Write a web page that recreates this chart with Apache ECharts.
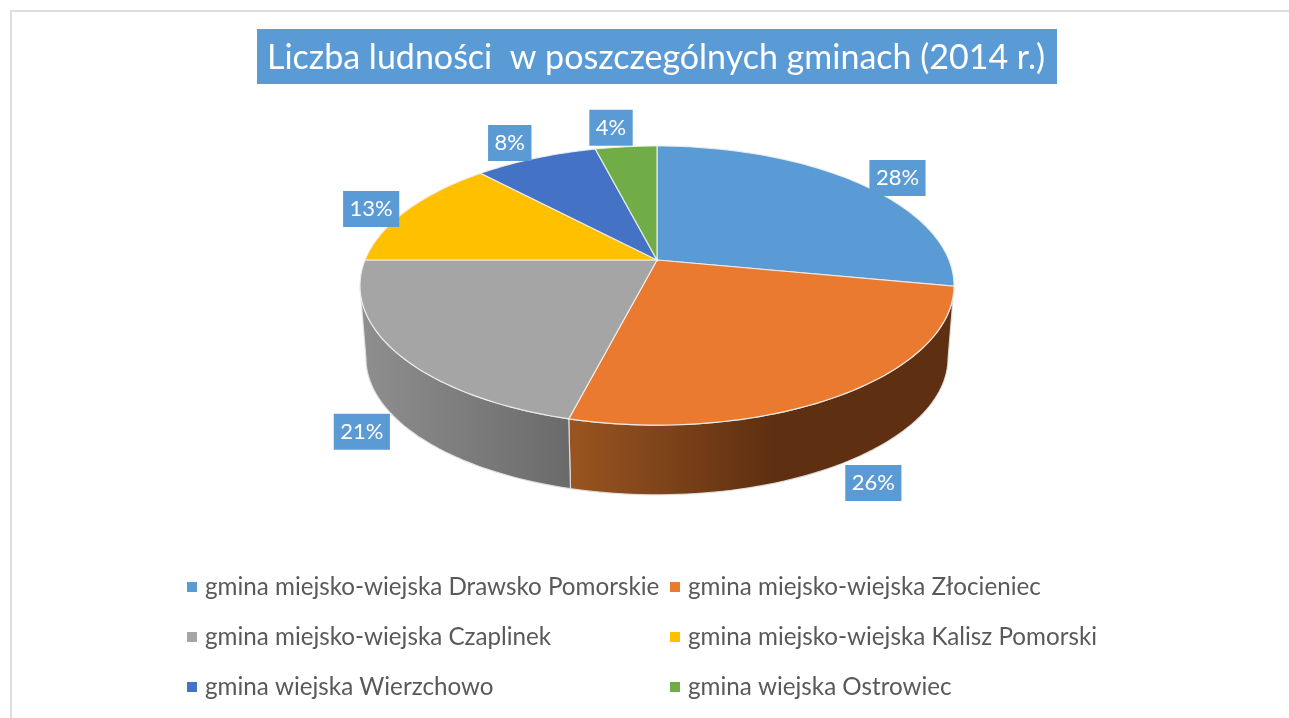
<!DOCTYPE html>
<html>
<head>
<meta charset="utf-8">
<style>html,body{margin:0;padding:0;background:#fff}#c{width:1289px;height:718px}</style>
<script src="https://cdn.jsdelivr.net/npm/echarts@6/dist/echarts.min.js"></script>
</head>
<body>
<div id="c"></div>
<script>
const titleText = 'Liczba ludności  w poszczególnych gminach (2014 r.)';
const categories = [
  'gmina miejsko-wiejska Drawsko Pomorskie',
  'gmina miejsko-wiejska Złocieniec',
  'gmina miejsko-wiejska Czaplinek',
  'gmina miejsko-wiejska Kalisz Pomorski',
  'gmina wiejska Wierzchowo',
  'gmina wiejska Ostrowiec'
];
const shares = [28, 26, 21, 13, 8, 4];
const colors = ['#5B9BD5', '#E97A30', '#A5A5A5', '#FFC000', '#4472C4', '#70AD47'];
const wallStops = [
  null,
  [[0, '#9A5521'], [0.53, '#5E2F11'], [1, '#5E2F11']],
  [[0, '#8F8F8F'], [1, '#6A6A6A']],
  null, null, null
];
const labelNudge = [[39, -5], [35, 18], [-40.5, 7.5], [-36, -1], [-26, -15], [-15, -19]];

// perspective projection of the pie disc
const apexX = 657, apexY = 260, scaleX = 292, scaleY = 134.9, persp = 0.183;
const depth = 73, lowerScale = 0.98;
const total = shares.reduce((a, b) => a + b, 0);
const wallFrom = 100.5, wallTo = 259.5;

function project(deg, lower) {
  const t = deg * Math.PI / 180;
  const ux = Math.sin(t), uy = -Math.cos(t);
  const d = 1 - persp * uy;
  const s = lower ? lowerScale : 1;
  return [apexX + s * scaleX * ux / d, apexY + s * scaleY * uy / d + (lower ? depth : 0)];
}
function arc(a, b, lower) {
  const pts = [], n = Math.max(4, Math.ceil(Math.abs(b - a) / 1.5));
  for (let i = 0; i <= n; i++) pts.push(project(a + (b - a) * i / n, lower));
  return pts;
}

let running = 0;
const spans = shares.map(v => { const s = [running, running + v]; running += v; return s; });

function renderSlice(index) {
  return function (params, api) {
    const a = spans[index][0] / total * 360, b = spans[index][0] / total * 360 + api.value(0) / total * 360;
    const children = [];
    const wa = Math.max(a, wallFrom), wb = Math.min(b, wallTo);
    if (wb > wa && wallStops[index]) {
      const topRim = arc(wa, wb, false), lowRim = arc(wb, wa, true);
      children.push({
        type: 'polygon', z2: 1,
        shape: { points: topRim.concat(lowRim) },
        style: {
          fill: { type: 'linear', x: 0, y: 0, x2: 1, y2: 0,
            colorStops: wallStops[index].map(s => ({ offset: s[0], color: s[1] })) },
          stroke: 'rgba(225,225,225,0.9)', lineWidth: 1.2
        }
      });
    }
    children.push({
      type: 'polygon', z2: 2,
      shape: { points: [[apexX, apexY]].concat(arc(a, b, false)) },
      style: { fill: colors[index], stroke: 'rgba(240,240,240,0.9)', lineWidth: 1.2 }
    });
    const mid = project((a + b) / 2, (a + b) / 2 > wallFrom && (a + b) / 2 < wallTo);
    children.push({
      type: 'text', z2: 3,
      style: {
        x: mid[0] + labelNudge[index][0], y: mid[1] + labelNudge[index][1],
        text: api.value(0) + '%', fill: '#fff',
        font: '22px Lato', align: 'center', verticalAlign: 'middle',
        backgroundColor: '#5B9BD5', padding: [6, 6.5, 8, 6.5]
      }
    });
    return { type: 'group', children };
  };
}

const chart = echarts.init(document.getElementById('c'), null, { renderer: 'canvas' });
chart.setOption({
  animation: false,
  backgroundColor: '#fff',
  title: {
    text: titleText, left: 257, top: 29,
    backgroundColor: '#5B9BD5', padding: [12, 12, 8, 10],
    textStyle: { color: '#fff', fontFamily: 'Lato', fontWeight: 'normal', fontSize: 34, lineHeight: 35 }
  },
  graphic: [{
    type: 'polyline', silent: true,
    shape: { points: [[11, 718], [11, 11], [1289, 11]] },
    style: { stroke: '#DEDEDE', lineWidth: 2, fill: null }
  }],
  legend: [0, 1].map(col => ({
    orient: 'vertical', left: col ? 665 : 182, top: 569, itemGap: 24,
    itemWidth: 10, itemHeight: 10, icon: 'rect',
    data: categories.filter((_, i) => i % 2 === col),
    selectedMode: false,
    textStyle: { color: '#595959', fontFamily: 'Lato', fontSize: 24.2, lineHeight: 26, padding: [0, 0, 0, 3] }
  })),
  series: categories.map((name, i) => ({
    type: 'custom', name, coordinateSystem: 'none',
    itemStyle: { color: colors[i] },
    renderItem: renderSlice(i),
    data: [[shares[i]]],
    silent: true
  }))
});
</script>
</body>
</html>
